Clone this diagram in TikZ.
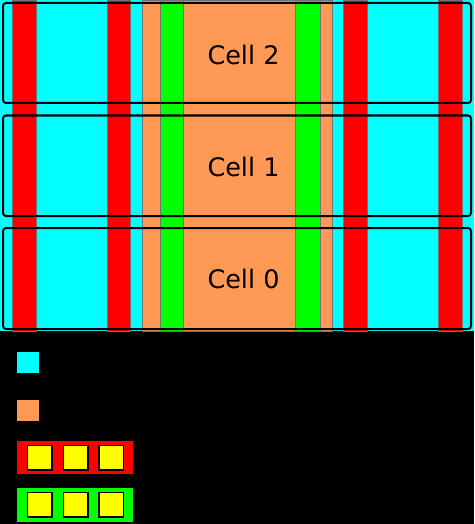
\documentclass[tikz,border=0pt]{standalone}
\usepackage{fontspec}
\setmainfont{DejaVu Sans}
\definecolor{cy}{RGB}{0,255,255}
\definecolor{rd}{RGB}{255,0,0}
\definecolor{gn}{RGB}{0,255,0}
\definecolor{og}{RGB}{255,153,85}
\definecolor{yl}{RGB}{255,255,0}
\tikzset{
  strip/.style={draw=black!55,line width=0.5pt},
  cellbox/.style={draw=black,line width=2pt,rounded corners=3pt,fill=none},
  celltext/.style={font=\fontsize{25.5}{30}\selectfont,text=black,inner sep=0pt},
  swatch/.style={draw=none},
  slot/.style={draw=black,line width=1.5pt,fill=yl}
}
\begin{document}
\begin{tikzpicture}[x=1pt,y=-1pt]
\useasboundingbox (0,0) rectangle (474,524);
\fill[black] (0,0) rectangle (474,524);
% strips
\fill[cy] (0,0) rectangle (474,331);
\draw[strip,fill=rd] (12,0) rectangle (36,331);
\draw[strip,fill=rd] (107,0) rectangle (130,331);
\draw[strip,fill=og] (142,0) rectangle (332,331);
\draw[strip,fill=gn] (160,0) rectangle (183,331);
\draw[strip,fill=gn] (295,0) rectangle (320,331);
\draw[strip,fill=rd] (343,0) rectangle (367,331);
\draw[strip,fill=rd] (438,0) rectangle (462,331);
% cells
\draw[cellbox] (3,3) rectangle (471,103);
\draw[cellbox] (3,115.5) rectangle (471,216);
\draw[cellbox] (3,228) rectangle (471,329);
\node[celltext] (c2) at (243.5,55) {Cell 2};
\node[celltext] (c1) at (243.5,166.5) {Cell 1};
\node[celltext] (c0) at (243.5,278.5) {Cell 0};
% legend
\fill[cy] (17,352) rectangle (39,373);
\fill[og] (17,400) rectangle (39,421);
\fill[rd] (17,441) rectangle (133,474);
\draw[slot] (27.5,445.5) rectangle (52,470);
\draw[slot] (63.5,445.5) rectangle (88,470);
\draw[slot] (99,445.5) rectangle (123.5,470);
\fill[gn] (17,488) rectangle (133,522);
\draw[slot] (27.5,492.5) rectangle (52,517);
\draw[slot] (63.5,492.5) rectangle (88,517);
\draw[slot] (99,492.5) rectangle (123.5,517);
\end{tikzpicture}
\end{document}
